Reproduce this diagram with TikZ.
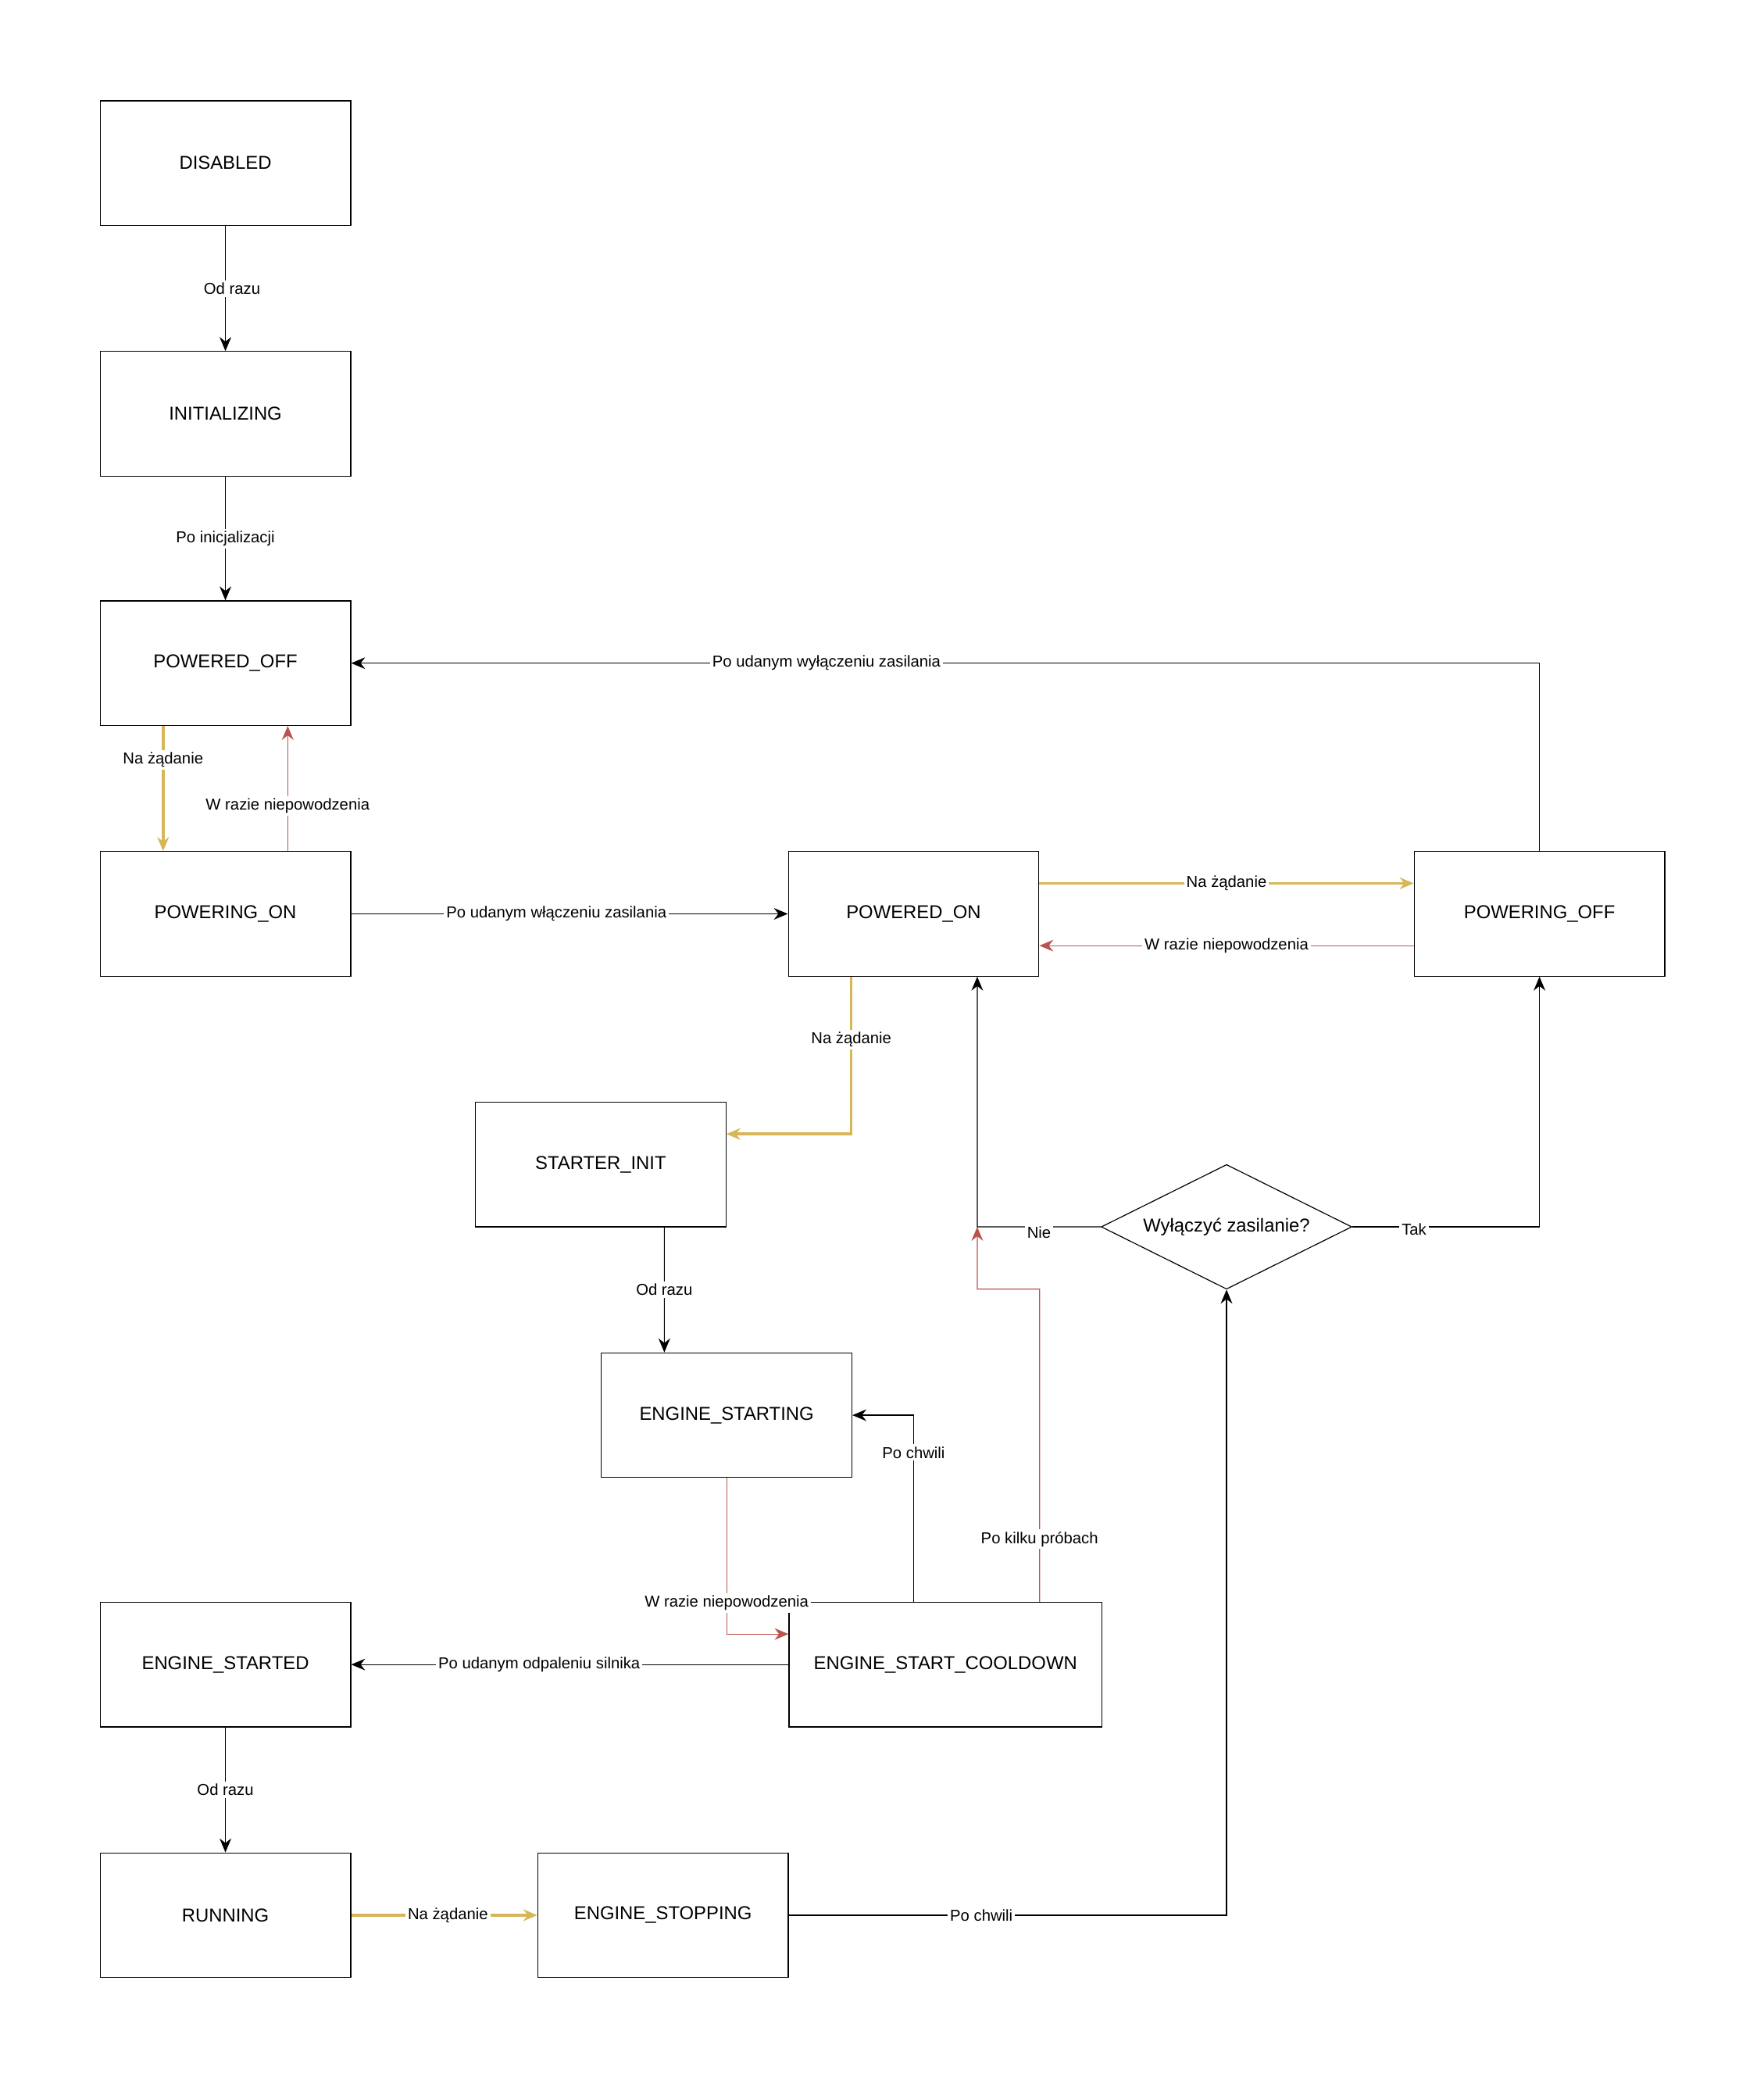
\documentclass[tikz,border=0pt]{standalone}
\usepackage{fontspec}
\setmainfont{Liberation Sans}
\usetikzlibrary{positioning, shapes.geometric, arrows.meta}

\definecolor{zolty}{HTML}{D6B656}
\definecolor{czerwony}{HTML}{B85450}

\tikzset{
  stan/.style={draw, minimum width=3.78cm, minimum height=1.88cm, font=\fontsize{8}{10}\selectfont},
  pytanie/.style={draw, diamond, aspect=2, minimum width=3.78cm, minimum height=1.88cm, inner sep=0pt, font=\fontsize{8}{10}\selectfont},
  przejscie/.style={draw, -{Stealth[length=6pt,width=5pt]}},
  zadanie/.style={przejscie, zolty, line width=1.2pt},
  blad/.style={przejscie, czerwony},
  opis/.style={fill=white, inner sep=1pt, font=\fontsize{6.8}{8}\selectfont, text=black}
}

\begin{document}
\begin{tikzpicture}[x=0.02cm, y=-0.02cm]
    \useasboundingbox (0,0) rectangle (1330,1566);

    % States
    \node[stan] (dis) at (170,123) {DISABLED};
    \node[stan] (init) at (170,312) {INITIALIZING};
    \node[stan] (poff) at (170,500) {POWERED\_OFF};
    \node[stan] (pgon) at (170,689) {POWERING\_ON};
    \node[stan] (pon) at (689,689) {POWERED\_ON};
    \node[stan] (pgoff) at (1161,689) {POWERING\_OFF};
    \node[stan] (sinit) at (453,878) {STARTER\_INIT};
    \node[stan] (estg) at (548,1067) {ENGINE\_STARTING};
    \node[stan] (estd) at (170,1255) {ENGINE\_STARTED};
    \node[stan, minimum width=4.72cm] (cool) at (713,1255) {ENGINE\_START\_COOLDOWN};
    \node[stan] (run) at (170,1444) {RUNNING};
    \node[stan] (estop) at (500,1444) {ENGINE\_STOPPING};
    \node[pytanie] (q) at (925,925) {Wyłączyć zasilanie?};

    % Waypoints
    \coordinate (nie) at (737,925);
    \coordinate (tak) at (1161,925);
    \coordinate (proby) at (784,972);
    \coordinate (proby2) at (737,972);

    % Transitions
    \draw[przejscie] (dis) -- node[opis, pos=0.5, xshift=0.1cm] {Od razu} (init);
    \draw[przejscie] (init) -- node[opis] {Po inicjalizacji} (poff);
    \draw[zadanie] ([xshift=-0.94cm]poff.south) -- node[opis, pos=0.27] {Na żądanie} ([xshift=-0.94cm]pgon.north);
    \draw[blad] ([xshift=0.94cm]pgon.north) -- node[opis, pos=0.36] {W razie niepowodzenia} ([xshift=0.94cm]poff.south);
    \draw[przejscie] (pgon) -- node[opis, pos=0.47] {Po udanym włączeniu zasilania} (pon);
    \draw[przejscie] (pgoff.north) |- node[opis, pos=0.8] {Po udanym wyłączeniu zasilania} (poff.east);
    \draw[zadanie] ([yshift=0.46cm]pon.east) -- node[opis] {Na żądanie} ([yshift=0.46cm]pgoff.west);
    \draw[blad] ([yshift=-0.48cm]pgoff.west) -- node[opis, text=black] {W razie niepowodzenia} ([yshift=-0.48cm]pon.east);
    \draw[zadanie] ([xshift=-0.94cm]pon.south) |- node[opis, pos=0.2] {Na żądanie} ([yshift=0.46cm]sinit.east);
    \draw[przejscie] ([xshift=0.96cm]sinit.south) -- node[opis] {Od razu} ([xshift=-0.94cm]estg.north);
    \draw[blad] (estg.south) |- node[opis, pos=0.4] {W razie niepowodzenia} ([yshift=0.46cm]cool.west);
    \draw[przejscie] ([xshift=-0.48cm]cool.north) |- node[opis, pos=0.4] {Po chwili} (estg.east);
    \draw[blad] ([xshift=1.42cm]cool.north) -- node[opis, pos=0.2] {Po kilku próbach} (proby) -- (proby2) -- (nie);
    \draw[przejscie] (q.west) -- node[opis, pos=0.5, yshift=-0.08cm] {Nie} (nie) -- ([xshift=0.96cm]pon.south);
    \draw[przejscie] (q.east) -- node[opis, pos=0.33, yshift=-0.04cm] {Tak} (tak) -- (pgoff.south);
    \draw[przejscie] (cool) -- node[opis, pos=0.57] {Po udanym odpaleniu silnika} (estd);
    \draw[przejscie] (estd) -- node[opis] {Od razu} (run);
    \draw[zadanie] (run) -- node[opis, pos=0.52] {Na żądanie} (estop);
    \draw[przejscie] (estop.east) -| node[opis, pos=0.22] {Po chwili} (q.south);
\end{tikzpicture}
\end{document}
